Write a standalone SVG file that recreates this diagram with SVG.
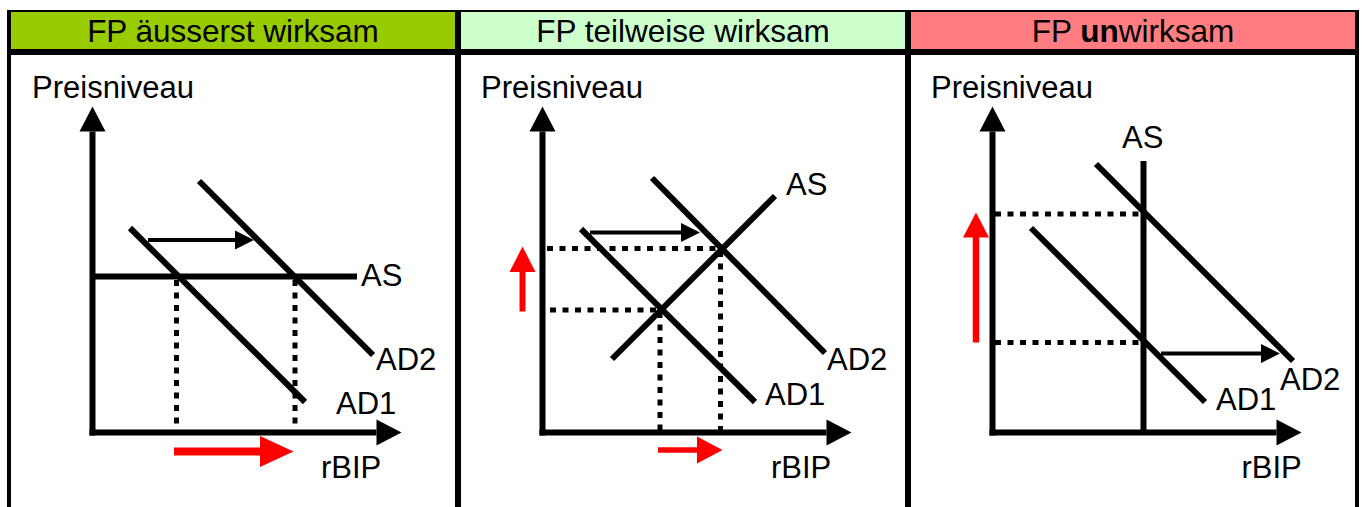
<svg xmlns="http://www.w3.org/2000/svg" width="1362" height="507" viewBox="0 0 1362 507">
  <style>
    text { font-family: "Liberation Sans", Arial, sans-serif; fill: #000; }
    .hd { font-size: 31.5px; text-anchor: middle; }
    .ax { font-size: 31px; }
    .lb { font-size: 31px; }
    .axis { stroke: #000; stroke-width: 6; fill: none; }
    .curve { stroke: #000; stroke-width: 6; fill: none; }
    .dot { stroke: #000; stroke-width: 5; stroke-dasharray: 6 6.5; fill: none; }
    .shift { stroke: #000; stroke-width: 4; fill: none; }
    .red { stroke: #FF0000; fill: none; }
    .redhead { fill: #FF0000; }
  </style>
  <defs>
    <marker id="axisHead" markerUnits="userSpaceOnUse" markerWidth="25" markerHeight="26" refX="0" refY="13" orient="auto" overflow="visible">
      <path d="M0,0 L25,13 L0,26 Z" fill="#000"/>
    </marker>
    <marker id="shiftHead" markerUnits="userSpaceOnUse" markerWidth="19" markerHeight="19" refX="0" refY="9.5" orient="auto" overflow="visible">
      <path d="M0,0 L19,9.5 L0,19 Z" fill="#000"/>
    </marker>
  </defs>

  <!-- frame -->
  <g id="frame">
    <rect x="11" y="12" width="444" height="37" fill="#99CC00"/>
    <rect x="461" y="12" width="444" height="37" fill="#CCFFCC"/>
    <rect x="911" y="12" width="444" height="37" fill="#FF7C80"/>
    <rect x="7" y="10" width="1352" height="2" fill="#000"/>
    <rect x="7" y="49" width="1352" height="6" fill="#000"/>
    <rect x="7" y="10" width="4" height="497" fill="#000"/>
    <rect x="455" y="10" width="6" height="497" fill="#000"/>
    <rect x="905" y="10" width="6" height="497" fill="#000"/>
    <rect x="1355" y="10" width="4" height="497" fill="#000"/>
  </g>

  <g id="header1"><text class="hd" x="233" y="41.5">FP äusserst wirksam</text></g>
  <g id="header2"><text class="hd" x="683" y="41.5">FP teilweise wirksam</text></g>
  <g id="header3"><text class="hd" x="1133" y="41.5">FP <tspan font-weight="bold">un</tspan>wirksam</text></g>

  <!-- Panel 1 -->
  <g id="panel1">
    <g id="p1-axes">
      <line class="axis" x1="92.5" y1="435.5" x2="92.5" y2="131.5" marker-end="url(#axisHead)"/>
      <line class="axis" x1="89.5" y1="432.5" x2="376.5" y2="432.5" marker-end="url(#axisHead)"/>
      <text class="ax" x="32" y="98">Preisniveau</text>
      <text class="lb" x="321" y="478">rBIP</text>
    </g>
    <g id="p1-AS">
      <line class="curve" x1="92" y1="276.5" x2="357" y2="276.5"/>
      <text class="lb" x="361" y="286">AS</text>
    </g>
    <g id="p1-AD1">
      <line class="curve" x1="130" y1="228" x2="305" y2="402"/>
      <text class="lb" x="336" y="414">AD1</text>
    </g>
    <g id="p1-AD2">
      <line class="curve" x1="199" y1="181" x2="373" y2="355"/>
      <text class="lb" x="376" y="370">AD2</text>
    </g>
  </g>

  <!-- Panel 2 -->
  <g id="panel2">
    <g id="p2-axes">
      <line class="axis" x1="542.5" y1="435.5" x2="542.5" y2="131.5" marker-end="url(#axisHead)"/>
      <line class="axis" x1="539.5" y1="432.5" x2="826.5" y2="432.5" marker-end="url(#axisHead)"/>
      <text class="ax" x="481" y="98">Preisniveau</text>
      <text class="lb" x="771" y="478">rBIP</text>
    </g>
    <g id="p2-AS">
      <line class="curve" x1="612" y1="359" x2="775" y2="196"/>
      <text class="lb" x="786" y="195">AS</text>
    </g>
    <g id="p2-AD1">
      <line class="curve" x1="581" y1="229" x2="755" y2="402"/>
      <text class="lb" x="765" y="405">AD1</text>
    </g>
    <g id="p2-AD2">
      <line class="curve" x1="652" y1="178" x2="825" y2="353"/>
      <text class="lb" x="827" y="370">AD2</text>
    </g>
  </g>

  <!-- Panel 3 -->
  <g id="panel3">
    <g id="p3-axes">
      <line class="axis" x1="992.5" y1="435.5" x2="992.5" y2="131.5" marker-end="url(#axisHead)"/>
      <line class="axis" x1="989.5" y1="432.5" x2="1276.5" y2="432.5" marker-end="url(#axisHead)"/>
      <text class="ax" x="931" y="98">Preisniveau</text>
      <text class="lb" x="1241.5" y="478">rBIP</text>
    </g>
    <g id="p3-AS">
      <line class="curve" x1="1143.5" y1="161" x2="1143.5" y2="432"/>
      <text class="lb" x="1122" y="148">AS</text>
    </g>
    <g id="p3-AD1">
      <line class="curve" x1="1031" y1="228" x2="1205" y2="402"/>
      <text class="lb" x="1216" y="410">AD1</text>
    </g>
    <g id="p3-AD2">
      <line class="curve" x1="1096" y1="164" x2="1293" y2="361"/>
      <text class="lb" x="1280" y="390">AD2</text>
    </g>
  </g>

  <!-- connectors: guides, shifts, changes -->
  <g id="connectors">
    <!-- panel 1 -->
    <line class="dot" x1="176.5" y1="280" x2="176.5" y2="426"/>
    <line class="dot" x1="295" y1="280" x2="295" y2="426"/>
    <line class="shift" x1="148" y1="240" x2="235" y2="240" marker-end="url(#shiftHead)"/>
    <line class="red" stroke-width="8" x1="174" y1="451.5" x2="261" y2="451.5"/>
    <polygon class="redhead" points="260,436 293.5,451.5 260,467"/>

    <!-- panel 2 -->
    <line class="dot" x1="547" y1="248.5" x2="720" y2="248.5"/>
    <line class="dot" x1="550" y1="310" x2="660" y2="310"/>
    <line class="dot" x1="660" y1="312" x2="660" y2="430"/>
    <line class="dot" x1="720.5" y1="251" x2="720.5" y2="430"/>
    <line class="shift" x1="590" y1="232.5" x2="681" y2="232.5" marker-end="url(#shiftHead)"/>
    <line class="red" stroke-width="6" x1="522.5" y1="311.5" x2="522.5" y2="271"/>
    <polygon class="redhead" points="509.5,272 522.5,246.5 535.5,272"/>
    <line class="red" stroke-width="5.5" x1="658" y1="450" x2="698" y2="450"/>
    <polygon class="redhead" points="697,436.5 722.5,450 697,463.5"/>

    <!-- panel 3 -->
    <line class="dot" x1="995" y1="214" x2="1143" y2="214"/>
    <line class="dot" x1="995" y1="342.5" x2="1143" y2="342.5"/>
    <line class="shift" x1="1161" y1="353.5" x2="1261" y2="353.5" marker-end="url(#shiftHead)"/>
    <line class="red" stroke-width="6.5" x1="976" y1="342.5" x2="976" y2="236.5"/>
    <polygon class="redhead" points="963,237.5 976,212.5 989,237.5"/>
  </g>
</svg>
